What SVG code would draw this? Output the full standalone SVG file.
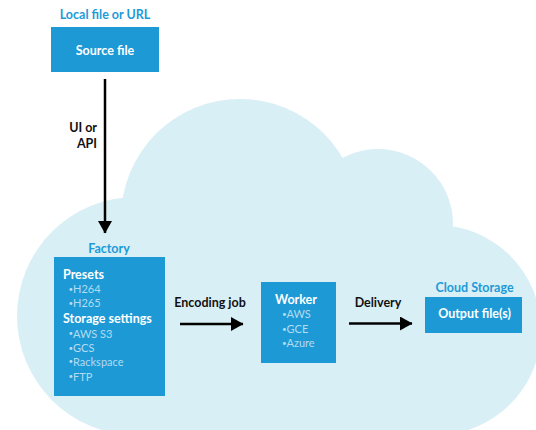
<svg xmlns="http://www.w3.org/2000/svg" width="536" height="430" viewBox="0 0 536 430">
<style>
  text { font-family: Lato, "Open Sans", "Liberation Sans", sans-serif; }
  .box { fill: #1d99d6; }
  .lbl { fill: #1d9ad8; font-weight: bold; font-size: 12.5px; text-anchor: middle; }
  .title { fill: #ffffff; font-weight: bold; font-size: 12.5px; }
  .mid { text-anchor: middle; }
  .item { fill: #b3dcf2; font-size: 11px; }
  .bul { font-size: 8px; }
  .edge { fill: #111111; font-weight: bold; font-size: 12.5px; }
  .conn { stroke: #000000; stroke-width: 2.5; fill: none; marker-end: url(#ah); }
</style>
<defs>
  <marker id="ah" markerUnits="userSpaceOnUse" markerWidth="13" markerHeight="14" refX="12" refY="7" orient="auto">
    <path d="M0,0 L12.5,7 L0,14 z" fill="#000000"/>
  </marker>
</defs>
<rect width="536" height="430" fill="#ffffff"/>
<g id="cloud" fill="#d9eff6">
  <circle cx="240" cy="218" r="119"/>
  <circle cx="378" cy="224" r="75"/>
  <circle cx="436" cy="330" r="105"/>
  <circle cx="136" cy="316" r="119"/>
  <rect x="136" y="240" width="300" height="190"/>
</g>
<g id="connectors">
  <line class="conn" x1="105" y1="79" x2="105" y2="233"/>
  <text class="edge" x="97" y="132" text-anchor="end">UI or</text>
  <text class="edge" x="97" y="148" text-anchor="end">API</text>
  <line class="conn" x1="180" y1="324" x2="243" y2="324"/>
  <text class="edge" x="210" y="307" text-anchor="middle">Encoding job</text>
  <line class="conn" x1="349" y1="323.5" x2="412" y2="323.5"/>
  <text class="edge" x="378" y="307" text-anchor="middle">Delivery</text>
</g>
<g id="source">
  <text class="lbl" x="105" y="19">Local file or URL</text>
  <rect class="box" x="51" y="27" width="108" height="45"/>
  <text class="title mid" x="105" y="55">Source file</text>
</g>
<g id="factory">
  <text class="lbl" x="109" y="252.5">Factory</text>
  <rect class="box" x="54" y="257" width="111" height="139"/>
  <text class="title" x="63" y="279">Presets</text>
  <text class="item" y="293"><tspan class="bul" x="68.5" dy="-1.5">•</tspan><tspan x="73" dy="1.5">H264</tspan></text>
  <text class="item" y="307"><tspan class="bul" x="68.5" dy="-1.5">•</tspan><tspan x="73" dy="1.5">H265</tspan></text>
  <text class="title" x="63" y="322.5">Storage settings</text>
  <text class="item" y="337.5"><tspan class="bul" x="68.5" dy="-1.5">•</tspan><tspan x="73" dy="1.5">AWS S3</tspan></text>
  <text class="item" y="352"><tspan class="bul" x="68.5" dy="-1.5">•</tspan><tspan x="73" dy="1.5">GCS</tspan></text>
  <text class="item" y="365.5"><tspan class="bul" x="68.5" dy="-1.5">•</tspan><tspan x="73" dy="1.5">Rackspace</tspan></text>
  <text class="item" y="380.5"><tspan class="bul" x="68.5" dy="-1.5">•</tspan><tspan x="73" dy="1.5">FTP</tspan></text>
</g>
<g id="worker">
  <rect class="box" x="261" y="282" width="75" height="81"/>
  <text class="title mid" x="296" y="304">Worker</text>
  <text class="item" y="318"><tspan class="bul" x="282" dy="-1.5">•</tspan><tspan x="286.5" dy="1.5">AWS</tspan></text>
  <text class="item" y="333"><tspan class="bul" x="282" dy="-1.5">•</tspan><tspan x="286.5" dy="1.5">GCE</tspan></text>
  <text class="item" y="347"><tspan class="bul" x="282" dy="-1.5">•</tspan><tspan x="286.5" dy="1.5">Azure</tspan></text>
</g>
<g id="output">
  <text class="lbl" x="474.5" y="292">Cloud Storage</text>
  <rect class="box" x="425" y="297" width="97" height="36"/>
  <text class="title mid" x="474.5" y="317.5">Output file(s)</text>
</g>
</svg>
